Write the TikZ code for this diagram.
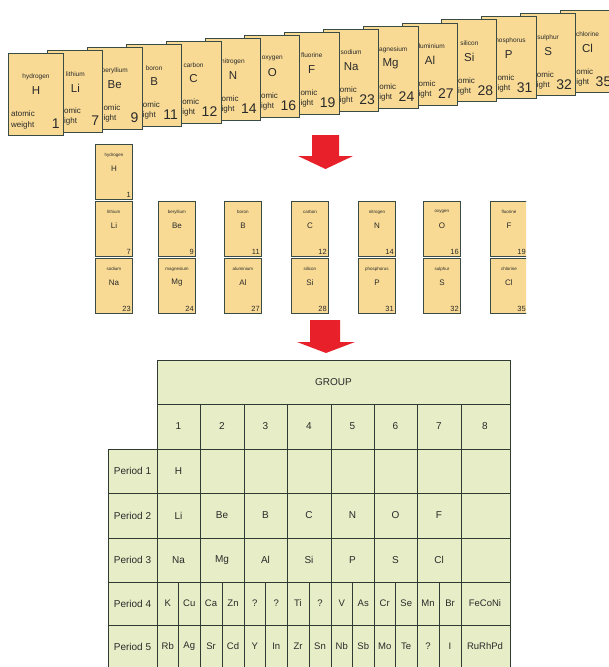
\documentclass[tikz,border=0pt]{standalone}
\usepackage{fontspec}
\setmainfont{Liberation Sans}
\usetikzlibrary{calc}
\definecolor{cardfill}{HTML}{F8DA94}
\definecolor{cardline}{HTML}{3A4A44}
\definecolor{tablefill}{HTML}{E7EDC6}
\definecolor{tableline}{HTML}{2F3A33}
\definecolor{arrowred}{HTML}{E8202A}
\definecolor{inktext}{HTML}{2A2A2A}
\tikzset{
  topcard/.style={draw=cardline, fill=cardfill, line width=0.9pt, minimum width=55pt, minimum height=82pt, inner sep=0pt, anchor=north west},
  midcard/.style={draw=cardline, fill=cardfill, line width=0.9pt, minimum width=37pt, minimum height=55pt, inner sep=0pt, anchor=north west},
  tname/.style={text=inktext, inner sep=0pt, font=\fontsize{6.5}{7}\selectfont},
  tsym/.style={text=inktext, inner sep=0pt, font=\fontsize{11.5}{12}\selectfont},
  tnum/.style={text=inktext, inner sep=0pt, anchor=east, font=\fontsize{14}{15}\selectfont},
  tweight/.style={text=inktext, inner sep=0pt, anchor=north west, align=left, font=\fontsize{8}{10}\selectfont},
  mname/.style={text=inktext, inner sep=0pt, font=\fontsize{4.5}{5}\selectfont},
  msym/.style={text=inktext, inner sep=0pt, font=\fontsize{8}{9}\selectfont},
  mnum/.style={text=inktext, inner sep=0pt, anchor=south east, font=\fontsize{7.5}{8}\selectfont},
  bigarrow/.style={fill=arrowred, draw=none},
  grid/.style={draw=tableline, line width=1pt},
  cell/.style={text=inktext, inner sep=0pt, font=\fontsize{10}{11}\selectfont},
  smallcell/.style={text=inktext, inner sep=0pt, font=\fontsize{9.5}{10}\selectfont}
}
\begin{document}
\begin{tikzpicture}[x=1pt,y=-1pt]
\useasboundingbox (0,0) rectangle (609,667);
\clip (0,0) rectangle (609,667);

% ---------- top row of cards (left card lies on top) ----------
\foreach \i/\nm/\sym/\num in {14/chlorine/Cl/35,13/sulphur/S/32,12/phosphorus/P/31,11/silicon/Si/28,10/aluminium/Al/27,9/magnesium/Mg/24,8/sodium/Na/23,7/fluorine/F/19,6/oxygen/O/16,5/nitrogen/N/14,4/carbon/C/12,3/boron/B/11,2/beryllium/Be/9,1/lithium/Li/7,0/hydrogen/H/1}{
  \pgfmathsetmacro\cx{8+39.4*\i}
  \pgfmathsetmacro\cy{53-3.05*\i}
  \node[topcard] (t\i) at (\cx,\cy) {};
  \node[tname] (tn\i) at ($(t\i.north)+(0,24)$) {\nm};
  \node[tsym] (ts\i) at ($(t\i.north)+(0,38)$) {\sym};
  \ifnum\i=0
    \node[tweight] (tw\i) at ($(t\i.north west)+(3,58)$) {atomic\\weight};
  \else
    \node[tweight] (tw\i) at ($(t\i.north west)+(16.5,58)$) {omic\\ight};
  \fi
  \node[tnum] (tv\i) at ($(t\i.north east)+(-4,71)$) {\num};
}

% ---------- first arrow ----------
\fill[bigarrow] (312,135) -- (339,135) -- (339,156) -- (353,156) -- (325.5,169) -- (298,156) -- (312,156) -- cycle;

% ---------- middle arrangement ----------
\begin{scope}
\clip (80,130) rectangle (526,313);
\foreach \k/\x/\y/\nm/\sym/\num in {
  1/95/144/hydrogen/H/1,
  2/95/201/lithium/Li/7, 3/95/258/sodium/Na/23,
  4/158/201/beryllium/Be/9, 5/158/258/magnesium/Mg/24,
  6/224/201/boron/B/11, 7/224/258/aluminium/Al/27,
  8/291/201/carbon/C/12, 9/291/258/silicon/Si/28,
  10/358/201/nitrogen/N/14, 11/358/258/phosphorus/P/31,
  12/423/201/oxygen/O/16, 13/423/258/sulphur/S/32,
  14/490/201/fluorine/F/19, 15/490/258/chlorine/Cl/35}{
  \node[midcard] (m\k) at (\x,\y) {};
  \node[mname] (mn\k) at ($(m\k.north)+(0,11)$) {\nm};
  \node[msym] (ms\k) at ($(m\k.north)+(0,25)$) {\sym};
  \node[mnum] (mv\k) at ($(m\k.south east)+(-2,-2)$) {\num};
}
\end{scope}

% ---------- second arrow ----------
\fill[bigarrow] (310,320) -- (340,320) -- (340,342) -- (355,342) -- (326,353) -- (297,342) -- (310,342) -- cycle;

% ---------- table ----------
\fill[tablefill] (157,360) rectangle (510,668);
\fill[tablefill] (108,449) rectangle (157,668);
\draw[grid] (157,668) -- (157,360) -- (510,360) -- (510,668);
\draw[grid] (157,404) -- (510,404);
\draw[grid] (108,668) -- (108,449) -- (510,449);
\foreach \y in {493,538,582,625} \draw[grid] (108,\y) -- (510,\y);
\foreach \x in {200,244,287,331,374,417,461} \draw[grid] (\x,404) -- (\x,668);
\foreach \x in {178.5,222,265.5,309,352.5,395.5,439} \draw[grid] (\x,582) -- (\x,668);

\node[cell] (group) at (333.5,382) {GROUP};
\foreach \k/\x in {1/178.5,2/222,3/265.5,4/309,5/352.5,6/395.5,7/439,8/485}
  \node[cell] (g\k) at (\x,426.5) {\k};

\foreach \k/\y in {1/471,2/515.5,3/560,4/603.5,5/646.5}
  \node[cell] (per\k) at (132.5,\y) {Period \k};

\node[cell] (r1c1) at (178.5,471) {H};
\foreach \k/\x/\s in {1/178.5/Li,2/222/Be,3/265.5/B,4/309/C,5/352.5/N,6/395.5/O,7/439/F}
  \node[cell] (r2c\k) at (\x,515.5) {\s};
\foreach \k/\x/\s in {1/178.5/Na,2/222/Mg,3/265.5/Al,4/309/Si,5/352.5/P,6/395.5/S,7/439/Cl}
  \node[cell] (r3c\k) at (\x,560) {\s};

\foreach \k/\x/\s in {1/167.75/K,2/189.25/Cu,3/211/Ca,4/233/Zn,5/254.75/?,6/276.25/?,7/298/Ti,8/320/?,9/341.75/V,10/363.25/As,11/384.75/Cr,12/406.25/Se,13/428/Mn,14/450/Br}
  \node[smallcell] (r4c\k) at (\x,603.5) {\s};
\node[smallcell] (r4c15) at (485,603.5) {FeCoNi};

\foreach \k/\x/\s in {1/167.75/Rb,2/189.25/Ag,3/211/Sr,4/233/Cd,5/254.75/Y,6/276.25/In,7/298/Zr,8/320/Sn,9/341.75/Nb,10/363.25/Sb,11/384.75/Mo,12/406.25/Te,13/428/?,14/450/I}
  \node[smallcell] (r5c\k) at (\x,646.5) {\s};
\node[smallcell] (r5c15) at (485,646.5) {RuRhPd};
\end{tikzpicture}
\end{document}
